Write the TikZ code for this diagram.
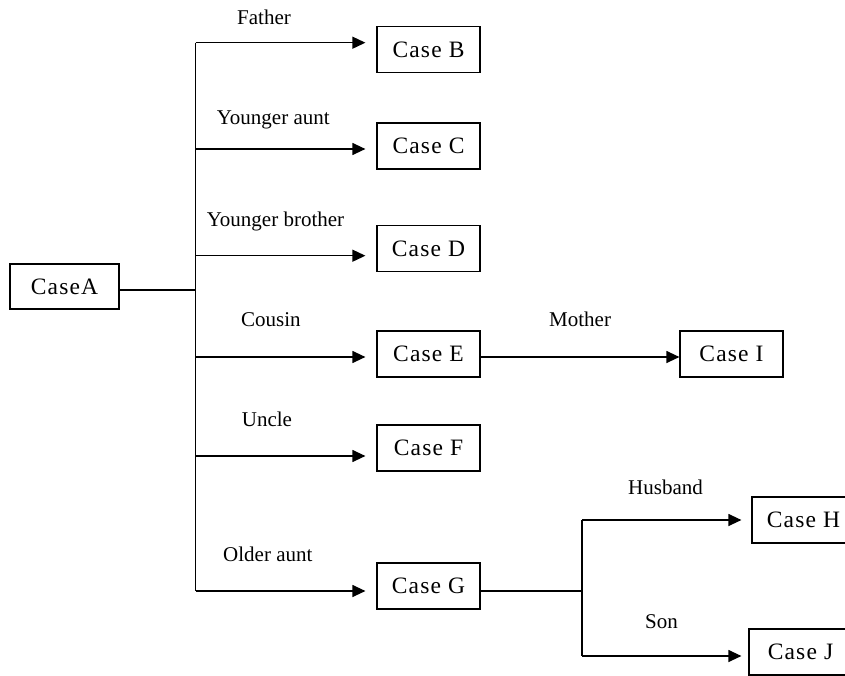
\documentclass[tikz,border=0pt]{standalone}
\usepackage{fontspec}
\setmainfont{Liberation Serif}
\newfontfamily\casefont[LetterSpace=5]{Liberation Serif}
\usetikzlibrary{arrows.meta}

\begin{document}
\begin{tikzpicture}[
    x=1pt, y=-1pt,
    box/.style={draw, rectangle, line width=1.2pt, minimum width=103pt,
                minimum height=46pt, inner sep=0pt, text centered,
                font=\casefont\fontsize{23.5}{27}\selectfont},
    lbl/.style={anchor=base west, inner sep=0pt, font=\fontsize{21}{25}\selectfont},
    line/.style={line width=1.2pt},
    arrow/.style={line width=1.2pt, -{Triangle[length=13pt, width=12pt]}}
]
    \clip (0,0) rectangle (845,676);

    \node[box, minimum width=109pt, minimum height=45pt] (caseA) at (64.5, 286.5) {CaseA};

    \node[box] (caseB) at (428.5, 49.7) {Case B};
    \node[box] (caseC) at (428.5, 146) {Case C};
    \node[box] (caseD) at (428.5, 248.7) {Case D};
    \node[box] (caseE) at (428.5, 354) {Case E};
    \node[box] (caseF) at (428.5, 448) {Case F};
    \node[box] (caseG) at (428.5, 586) {Case G};

    \node[box] (caseI) at (731.5, 354) {Case I};
    \node[box] (caseH) at (803.5, 520) {Case H};
    \node[box] (caseJ) at (800.5, 652) {Case J};

    % trunk from Case A
    \coordinate (jA) at (195.7, 290);
    \coordinate (jB) at (195.7, 42.7);
    \coordinate (jC) at (195.7, 149);
    \coordinate (jD) at (195.7, 255.7);
    \coordinate (jE) at (195.7, 357);
    \coordinate (jF) at (195.7, 456);
    \coordinate (jG) at (195.7, 591);

    \draw[line] (caseA.east |- jA) -- (jA);
    \draw[line] (jB) -- (jG);
    \foreach \c in {B, C, D, E, F, G}
        \draw[arrow, shorten >=11pt] (j\c) -- (j\c -| case\c.west);

    % Case E -> Case I
    \draw[arrow] (caseE.east |- 0,357) -- (caseI.west |- 0,357);

    % Case G split
    \coordinate (jS) at (582, 591);
    \coordinate (jH) at (582, 520);
    \coordinate (jJ) at (582, 656);
    \draw[line] (caseG.east |- jS) -- (jS);
    \draw[line] (jH) -- (jJ);
    \draw[arrow, shorten >=10pt] (jH) -- (jH -| caseH.west);
    \draw[arrow, shorten >=7pt] (jJ) -- (jJ -| caseJ.west);

    % relation labels
    \node[lbl] (lFather) at (237, 24.3) {Father};
    \node[lbl] (lAunt) at (216.7, 125) {Younger aunt};
    \node[lbl] (lBrother) at (206.7, 226) {Younger brother};
    \node[lbl] (lCousin) at (241, 326) {Cousin};
    \node[lbl] (lUncle) at (241.7, 426.7) {Uncle};
    \node[lbl] (lOlder) at (223, 561.7) {Older aunt};
    \node[lbl] (lMother) at (549, 326) {Mother};
    \node[lbl] (lHusband) at (628, 494) {Husband};
    \node[lbl] (lSon) at (645, 628) {Son};
\end{tikzpicture}
\end{document}
